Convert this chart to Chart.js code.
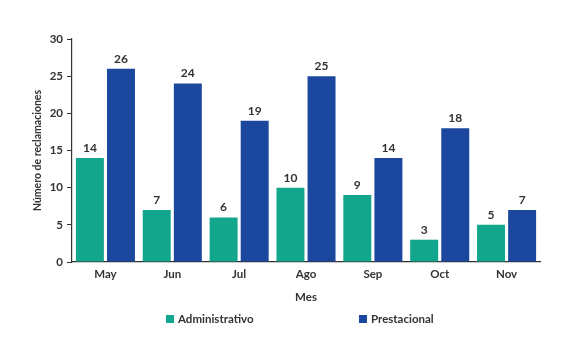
<!DOCTYPE html>
<html><head><meta charset="utf-8">
<script src="https://cdn.jsdelivr.net/npm/chart.js@4.4.0/dist/chart.umd.min.js"></script>
<style>
html,body{margin:0;padding:0;background:#fff;}
#wrap{position:relative;width:567px;height:341px;}
#legend{position:absolute;left:0;top:312px;width:567px;height:18px;font:700 11.5px Lato,sans-serif;color:#333;}
.li{position:absolute;top:0;display:flex;align-items:center;}
.sw{display:inline-block;width:8px;height:8px;margin-right:4px;}
</style></head><body>
<div id="wrap"><canvas id="c" width="567" height="341"></canvas>
<div id="legend"></div></div>
<script>
const categories = ["May","Jun","Jul","Ago","Sep","Oct","Nov"];
const administrativo = [14,7,6,10,9,3,5];
const prestacional = [26,24,19,25,14,18,7];
const seriesNames = ["Administrativo","Prestacional"];
const colors = ["#12A68D","#1B489E"];
const yTicks = [0,5,10,15,20,25,30];

const FONT = "Lato, sans-serif";
const labelPlugin = {
  id:'vals',
  afterDatasetsDraw(chart){
    const ctx = chart.ctx;
    ctx.save();
    ctx.font = "700 12px " + FONT;
    ctx.fillStyle = "#333";
    ctx.textAlign = "center";
    ctx.textBaseline = "bottom";
    chart.data.datasets.forEach((ds,i)=>{
      chart.getDatasetMeta(i).data.forEach((el,j)=>{
        ctx.fillText(String(ds.data[j]), el.x, el.y - 4);
      });
    });
    ctx.restore();
  }
};

new Chart(document.getElementById('c'), {
  type:'bar',
  data:{
    labels:categories,
    datasets:[
      {label:seriesNames[0], data:administrativo, backgroundColor:colors[0], barPercentage:0.9, categoryPercentage:0.93},
      {label:seriesNames[1], data:prestacional, backgroundColor:colors[1], barPercentage:0.9, categoryPercentage:0.93}
    ]
  },
  options:{
    responsive:false, animation:false,
    layout:{padding:{left:27,right:27,top:39,bottom:29}},
    plugins:{legend:{display:false}, tooltip:{enabled:false}},
    scales:{
      x:{
        grid:{display:false, drawTicks:false},
        border:{display:true,color:'#333',width:1.2},
        ticks:{font:{family:FONT,size:11.5,weight:'700'},color:'#333',padding:5},
        title:{display:true,text:'Mes',font:{family:FONT,size:11.5,weight:'700'},color:'#333',padding:{top:6,bottom:8}},
        afterFit(s){s.height=50;}
      },
      y:{
        min:0,max:30,
        afterBuildTicks(s){s.ticks = yTicks.map(v=>({value:v}));},
        grid:{drawOnChartArea:false, drawTicks:true, tickLength:5, color:'#333', tickColor:'#333'},
        border:{display:true,color:'#333',width:1.2},
        ticks:{font:{family:FONT,size:11.5,weight:'700'},color:'#333',padding:4},
        title:{display:true,text:'Número de reclamaciones',font:{family:FONT,size:10.5,weight:'700'},color:'#333',padding:{top:4,bottom:4}},
        afterFit(s){s.width=45;}
      }
    }
  },
  plugins:[labelPlugin]
});

const lg = document.getElementById('legend');
const lx = [166, 359];
seriesNames.forEach((n,i)=>{
  const d = document.createElement('div');
  d.className='li'; d.style.left = lx[i]+'px';
  d.innerHTML = '<span class="sw" style="background:'+colors[i]+'"></span><span>'+n+'</span>';
  lg.appendChild(d);
});
</script>
</body></html>
